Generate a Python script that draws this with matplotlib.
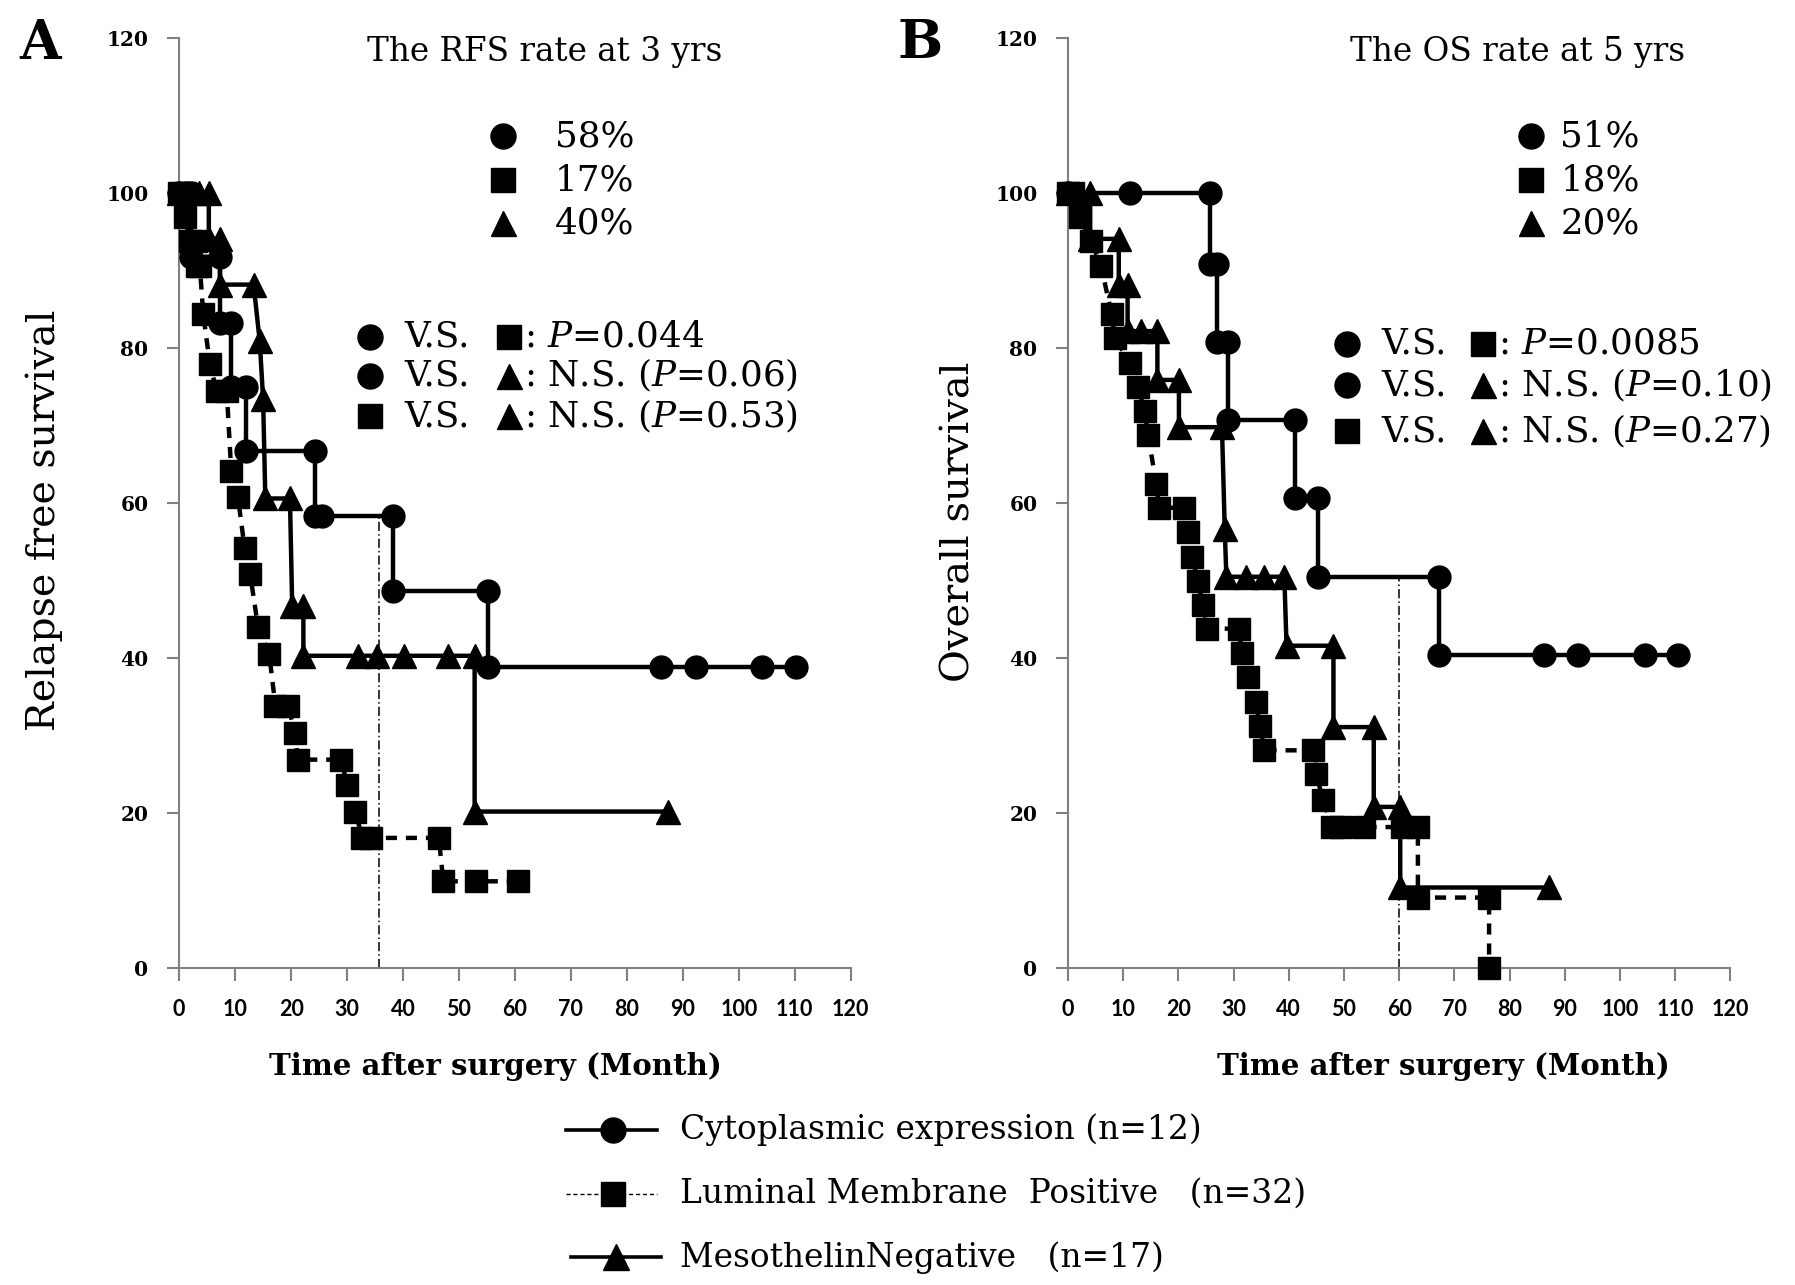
import matplotlib
matplotlib.use('Agg')
import matplotlib.pyplot as plt
from matplotlib.lines import Line2D

plt.rcParams['mathtext.fontset'] = 'dejavuserif'

# ---------------- data ----------------
months_ticks = list(range(0, 121, 10))
surv_ticks = list(range(0, 121, 20))

# Panel A: relapse free survival
rfs_cyto_t = [0, 1.2, 2.2, 2.2, 7.3, 7.3, 9.3, 9.3, 12.0, 12.0, 24.2, 24.2, 25.6, 38.3, 38.3, 55.2, 55.2, 86.1, 92.3, 104.2, 110.3]
rfs_cyto_s = [100, 100, 100, 91.7, 91.7, 83.3, 83.3, 75.0, 75.0, 66.7, 66.7, 58.3, 58.3, 58.3, 48.6, 48.6, 38.9, 38.9, 38.9, 38.9, 38.9]

rfs_memb_t = [0, 1.0, 1.0, 2.0, 3.0, 3.2, 3.7, 4.3, 5.5, 6.7, 8.5, 9.3, 10.5, 11.7, 12.7, 14.1, 16.1, 17.2, 19.5, 20.7, 21.2, 29.0, 30.0, 31.5, 32.7, 34.3, 46.4, 47.2, 53.0, 60.5]
rfs_memb_s = [100, 100, 96.9, 93.8, 93.8, 90.6, 90.6, 84.4, 77.9, 74.5, 74.5, 64.2, 60.8, 54.2, 50.8, 44.0, 40.5, 33.8, 33.8, 30.3, 26.9, 26.9, 23.6, 20.2, 16.8, 16.8, 16.8, 11.2, 11.2, 11.2]

rfs_neg_t = [0, 3.5, 5.3, 5.3, 7.3, 7.3, 13.3, 14.4, 15.0, 15.4, 19.8, 20.2, 22.2, 22.2, 31.9, 35.3, 40.2, 48.0, 52.8, 52.8, 87.3]
rfs_neg_s = [100, 100, 100, 94.1, 94.1, 88.2, 88.2, 80.9, 73.5, 60.6, 60.6, 46.7, 46.7, 40.3, 40.3, 40.3, 40.3, 40.3, 40.3, 20.2, 20.2]

# Panel B: overall survival
os_cyto_t = [0, 11.2, 25.7, 25.7, 27.0, 27.0, 29.0, 29.0, 41.1, 41.1, 45.3, 45.3, 67.3, 67.3, 86.3, 92.5, 104.5, 110.6]
os_cyto_s = [100, 100, 100, 90.9, 90.9, 80.8, 80.8, 70.7, 70.7, 60.6, 60.6, 50.5, 50.5, 40.4, 40.4, 40.4, 40.4, 40.4]

os_memb_t = [0, 0.9, 2.1, 4.2, 6.0, 7.9, 8.5, 11.2, 12.7, 13.9, 14.5, 16.0, 16.5, 21.1, 21.7, 22.5, 23.5, 24.5, 25.2, 31.0, 31.5, 32.7, 34.0, 34.8, 35.6, 44.4, 45.0, 46.2, 47.9, 49.5, 53.6, 60.5, 63.4, 63.4, 76.3, 76.3]
os_memb_s = [100, 100, 96.9, 93.8, 90.6, 84.4, 81.3, 78.1, 75.0, 71.9, 68.8, 62.5, 59.4, 59.4, 56.3, 53.1, 50.0, 46.9, 43.8, 43.8, 40.6, 37.5, 34.4, 31.3, 28.1, 28.1, 25.0, 21.7, 18.2, 18.2, 18.2, 18.2, 18.2, 9.1, 9.1, 0]

os_neg_t = [0, 4.0, 4.0, 9.2, 9.2, 10.8, 10.8, 13.3, 16.2, 16.2, 20.1, 20.1, 27.9, 28.4, 28.7, 32.3, 35.6, 39.2, 39.6, 48.1, 48.1, 55.4, 55.4, 60.2, 60.2, 87.2]
os_neg_s = [100, 100, 94.1, 94.1, 88.2, 88.2, 82.2, 82.2, 82.2, 75.9, 75.9, 69.8, 69.8, 56.7, 50.5, 50.5, 50.5, 50.5, 41.6, 41.6, 31.1, 31.1, 20.8, 20.8, 10.4, 10.4]

# reference time lines (month, survival at that time)
rfs_ref = (35.7, 58.3)
os_ref = (60, 50.5)

rfs_rates = ["58%", "17%", "40%"]
os_rates = ["51%", "18%", "20%"]
rfs_tests = [": $P$=0.044", ": N.S. ($P$=0.06)", ": N.S. ($P$=0.53)"]
os_tests = [": $P$=0.0085", ": N.S. ($P$=0.10)", ": N.S. ($P$=0.27)"]
legend_labels = ["Cytoplasmic expression (n=12)",
                 "Luminal Membrane  Positive   (n=32)",
                 "MesothelinNegative   (n=17)"]

# ---------------- figure ----------------
W, H = 1795, 1285
fig = plt.figure(figsize=(W / 100, H / 100), dpi=100)
SX, SY = 1553.0, 1111.0
K = W / SX


def fx(x):
    return x / SX


def fy(y):
    return 1 - y / SY


renderer = fig.canvas.get_renderer()


def fit_w(t, target_disp):
    w = t.get_window_extent(renderer).width
    t.set_fontsize(t.get_fontsize() * target_disp * K / w)
    return t.get_fontsize()


def fit_h(t, target_disp):
    h = t.get_window_extent(renderer).height
    t.set_fontsize(t.get_fontsize() * target_disp * K / h)
    return t.get_fontsize()


SERIF = 'DejaVu Serif'
GRAY = '#808080'

ax1 = fig.add_axes([fx(155), fy(837), fx(736) - fx(155), fy(33) - fy(837)])
ax2 = fig.add_axes([fx(924), fy(837), fx(1497) - fx(924), fy(33) - fy(837)])


def style(ax):
    ax.set_xlim(0, 120)
    ax.set_ylim(0, 120)
    ax.set_xticks(months_ticks)
    ax.set_yticks(surv_ticks)
    for s in ['top', 'right']:
        ax.spines[s].set_visible(False)
    for s in ['left', 'bottom']:
        ax.spines[s].set_color(GRAY)
        ax.spines[s].set_linewidth(1.5)
    ax.tick_params(direction='out', length=9, width=1.5, color=GRAY)
    ax.tick_params(axis='x', pad=13)
    ax.tick_params(axis='y', pad=13)
    for lab in ax.get_xticklabels():
        lab.set_fontfamily('Lato')
        lab.set_fontweight('bold')
        lab.set_fontsize(15.5)
    for lab in ax.get_yticklabels():
        lab.set_fontfamily(SERIF)
        lab.set_fontweight('bold')
        lab.set_fontsize(14.5)
    ax.patch.set_visible(False)


LW = 3.2
MS = 17


def curves(ax, ct, cs, mt, ms_, nt, ns):
    ax.plot(mt, ms_, color='k', lw=LW, ls=(0, (2.5, 2.0)), marker='s', ms=MS - 1.5,
            clip_on=False, zorder=3)
    ax.plot(nt, ns, color='k', lw=LW, marker='^', ms=MS, clip_on=False, zorder=4)
    ax.plot(ct, cs, color='k', lw=LW, marker='o', ms=MS - 0.5, clip_on=False, zorder=5)


style(ax1)
style(ax2)
curves(ax1, rfs_cyto_t, rfs_cyto_s, rfs_memb_t, rfs_memb_s, rfs_neg_t, rfs_neg_s)
curves(ax2, os_cyto_t, os_cyto_s, os_memb_t, os_memb_s, os_neg_t, os_neg_s)
ax1.plot([rfs_ref[0], rfs_ref[0]], [0, rfs_ref[1]], color='k', lw=1.1, ls=(0, (6, 2, 1, 2)), zorder=2)
ax2.plot([os_ref[0], os_ref[0]], [0, os_ref[1]], color='k', lw=1.1, ls=(0, (6, 2, 1, 2)), zorder=2)


def fmark(x, y, m, ms):
    fig.add_artist(Line2D([fx(x)], [fy(y)], marker=m, ms=ms, color='k', ls='none',
                          transform=fig.transFigure))


# panel letters
tA = fig.text(fx(35), fy(38), "A", ha='center', va='center', family=SERIF, weight='bold', fontsize=30)
fit_w(tA, 36)
tB = fig.text(fx(796), fy(38), "B", ha='center', va='center', family=SERIF, weight='bold', fontsize=30)
tB.set_fontsize(tA.get_fontsize())

# titles
t1 = fig.text(fx(471), fy(45), "The RFS rate at 3 yrs", ha='center', va='center', family=SERIF, fontsize=20)
fs_title = fit_w(t1, 307)
fig.text(fx(1313), fy(45), "The OS rate at 5 yrs", ha='center', va='center', family=SERIF, fontsize=fs_title)

# annotation size from one row
tmp = fig.text(fx(455), fy(325), rfs_tests[1], ha='left', va='center', family=SERIF, fontsize=20)
fs_ann = fit_w(tmp, 237)
tmp.remove()

mk = ['o', 's', '^']
mks = [18, 17, 18]
for i, yy in enumerate([118, 156, 193]):
    fmark(435, yy, mk[i], mks[i])
    fig.text(fx(480), fy(yy), rfs_rates[i], ha='left', va='center', family=SERIF, fontsize=fs_ann)
    fmark(1325, yy, mk[i], mks[i])
    fig.text(fx(1350), fy(yy), os_rates[i], ha='left', va='center', family=SERIF, fontsize=fs_ann)

pairs = [('o', 's'), ('o', '^'), ('s', '^')]
msz = {'o': 18, 's': 17, '^': 18}
for i, yy in enumerate([291, 325, 360]):
    a, b = pairs[i]
    fmark(320, yy, a, msz[a])
    fig.text(fx(350), fy(yy), "V.S.", ha='left', va='center', family=SERIF, fontsize=fs_ann)
    fmark(440, yy, b, msz[b])
    fig.text(fx(453), fy(yy), rfs_tests[i], ha='left', va='center', family=SERIF, fontsize=fs_ann)
for i, yy in enumerate([297, 333, 373]):
    a, b = pairs[i]
    fmark(1165, yy, a, msz[a])
    fig.text(fx(1195), fy(yy), "V.S.", ha='left', va='center', family=SERIF, fontsize=fs_ann)
    fmark(1283, yy, b, msz[b])
    fig.text(fx(1296), fy(yy), os_tests[i], ha='left', va='center', family=SERIF, fontsize=fs_ann)

# axis labels
xl = fig.text(fx(429), fy(922), "Time after surgery (Month)", ha='center', va='center',
              family=SERIF, weight='bold', fontsize=20)
fs_xl = fit_w(xl, 392)
fig.text(fx(1249), fy(922), "Time after surgery (Month)", ha='center', va='center',
         family=SERIF, weight='bold', fontsize=fs_xl)
yl = fig.text(fx(38), fy(450), "Relapse free survival", ha='center', va='center', rotation=90,
              family=SERIF, fontsize=22)
fit_h(yl, 364)
yl2 = fig.text(fx(830), fy(451), "Overall survival", ha='center', va='center', rotation=90,
               family=SERIF, fontsize=22)
fit_h(yl2, 277)

# bottom legend
lt = fig.text(fx(588), fy(1032), legend_labels[1], ha='left', va='center', family=SERIF, fontsize=20)
fs_leg = fit_w(lt, 540)
for i, yy in enumerate([977, 1087]):
    fig.text(fx(588), fy(yy), legend_labels[0 if i == 0 else 2], ha='left', va='center',
             family=SERIF, fontsize=fs_leg)
fig.add_artist(Line2D([fx(490), fx(568)], [fy(977), fy(977)], color='k', lw=2.6,
                      marker=None, transform=fig.transFigure))
fmark(530, 977, 'o', 18)
fig.add_artist(Line2D([fx(490), fx(568)], [fy(1032), fy(1032)], color='k', lw=1.0,
                      ls=(0, (3, 2)), transform=fig.transFigure))
fmark(530, 1032, 's', 17)
fig.add_artist(Line2D([fx(494), fx(572)], [fy(1087), fy(1087)], color='k', lw=2.6,
                      transform=fig.transFigure))
fmark(533, 1087, '^', 19)

fig.savefig('out.png', dpi=100, facecolor='white')
